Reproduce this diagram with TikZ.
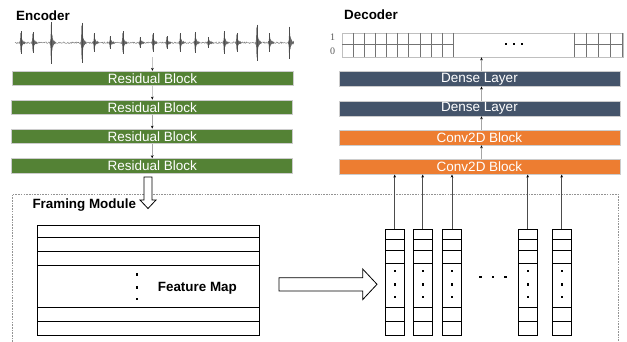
\documentclass[tikz,border=0pt]{standalone}
\usepackage{fontspec}
\setmainfont{Liberation Sans}
\newfontfamily\serifnum{Liberation Serif}
\usetikzlibrary{arrows.meta}
\definecolor{encgreen}{HTML}{548235}
\definecolor{densecol}{HTML}{44546A}
\definecolor{convcol}{HTML}{ED7D31}
\begin{document}
\begin{tikzpicture}[x=1pt,y=-1pt,
  block/.style={draw=gray!40, line width=0.5pt, minimum width=281pt, minimum height=14.6pt,
    inner sep=0pt, text=white, font=\fontsize{13.5}{16}\selectfont},
  arr/.style={draw=gray!70, line width=0.6pt, -{Stealth[length=3pt,width=2.6pt,black]}},
  colarr/.style={draw=black!70, line width=0.6pt, -{Stealth[length=3pt,width=2.6pt,black]}},
  title/.style={font=\bfseries\fontsize{13.4}{16}\selectfont, inner sep=0pt},
  gridbox/.style={draw=gray!50, line width=0.8pt, inner sep=0pt},
  gridline/.style={black!55, line width=0.8pt},
  thick box/.style={draw=black, line width=1pt, inner sep=0pt},
  hollow/.style={draw=black, line width=0.8pt, fill=white}
]
\useasboundingbox (0,0) rectangle (627,341);

% ---------------- Encoder ----------------
\node[title, anchor=base west] (enc) at (16,20.7) {Encoder};

% waveform
\pgfmathsetseed{7}
\draw[black!50, line width=0.45pt] plot[domain=15:293, samples=500] (\x, {42.7+0.8*rand});
\foreach \p/\a in {20.7/12, 32.7/11, 51/22, 81.7/21, 94/10, 110/7, 122.7/12, 140/6,
  152.7/10, 166.7/7, 180/10, 195/11, 208.3/6, 224/12, 236.7/10, 256.7/19, 269.3/10, 289.3/17}
{
  \draw[black!60, line width=0.3pt] plot[variable=\t, domain=-1.2:4.5, samples=90]
    ({\p+\t}, {42.7 + \a*exp(3*min(\t,0))*exp(-0.85*max(\t,0))*sin(1530*\t)});
  \draw[black!70, line width=0.5pt] (\p+0.3,{42.7-\a*0.95}) -- (\p+0.3,{42.7+\a*0.95});
}
\coordinate (wav) at (152.3,57);

\node[block, fill=encgreen] (r1) at (152.5,78.4) {Residual Block};
\node[block, fill=encgreen] (r2) at (152.2,107.2) {Residual Block};
\node[block, fill=encgreen] (r3) at (152.2,136.2) {Residual Block};
\node[block, fill=encgreen] (r4) at (152.2,165.8) {Residual Block};

\draw[arr] (wav) -- (r1);
\draw[arr] (r1) -- (r2);
\draw[arr] (r2) -- (r3);
\draw[arr] (r3) -- (r4);

% ---------------- Decoder ----------------
\node[title, anchor=base west] (dec) at (344,19.6) {Decoder};

\node[gridbox, anchor=north west, minimum width=280.5pt, minimum height=24.4pt] (grid) at (342,32.9) {};
\foreach \k in {1,...,10} \draw[gridline] ({342+\k*11.13},32.9) -- ({342+\k*11.13},57.3);
\draw[gridline] (342,44.7) -- (453.3,44.7);
\foreach \xx in {574,586.3,598.5,610.7,622.5} \draw[gridline] (\xx,32.9) -- (\xx,57.3);
\draw[gridline] (574,44.7) -- (622.5,44.7);
\foreach \xx in {506,514,522} \fill (\xx-1,43) rectangle ++(2,2);

\node[font=\serifnum\fontsize{10}{11}\selectfont, text=black!65, inner sep=0pt] (l1) at (332.5,37.5) {1};
\node[font=\serifnum\fontsize{10}{11}\selectfont, text=black!65, inner sep=0pt] (l0) at (332.5,50.8) {0};

\node[block, fill=densecol] (d1) at (479.5,78.9) {Dense Layer};
\node[block, fill=densecol] (d2) at (479.5,108.7) {Dense Layer};
\node[block, fill=convcol] (c1) at (479.5,137.7) {Conv2D Block};
\node[block, fill=convcol] (c2) at (479.5,167) {Conv2D Block};

\draw[arr] ([xshift=2pt]c2.north) -- ([xshift=2pt]c1.south);
\draw[arr] ([xshift=2pt]c1.north) -- ([xshift=2pt]d2.south);
\draw[arr] ([xshift=2pt]d2.north) -- ([xshift=2pt]d1.south);
\draw[arr] ([xshift=2pt]d1.north) -- (481.5,57.3);

% ---------------- Framing module ----------------
\draw[gray!85, dash pattern=on 1.6pt off 1.1pt, line width=0.7pt]
  (12.3,342) -- (12.3,194) -- (618,194) -- (618,342);
\node[title, anchor=base west] (fram) at (32.3,208.3) {Framing Module};
\draw[hollow] (144,177) -- (152,177) -- (152,200) -- (156,200) -- (148,208.5) -- (140,200) -- (144,200) -- cycle;

% feature map
\node[thick box, anchor=north west, minimum width=221.4pt, minimum height=110pt] (fm) at (37.3,225) {};
\foreach \yy in {237.3,251,265,307.7,321.7} \draw[line width=1pt] (37.3,\yy) -- (258.7,\yy);
\foreach \yy in {274.3,287.3,299} \fill (135.5,\yy-1.2) rectangle ++(2.5,2.5);
\node[title, anchor=base west] (fmt) at (157.7,291) {Feature Map};

% hollow arrow to frames
\draw[hollow] (279,277.7) -- (362.7,277.7) -- (362.7,269) -- (377,284.3) -- (362.7,299.6)
  -- (362.7,291) -- (279,291) -- cycle;

% frame columns
\foreach \n/\cx in {1/394.7, 2/422.7, 3/452, 4/527.7, 5/561.7}
{
  \node[thick box, minimum width=18.7pt, minimum height=106pt] (col\n) at (\cx,282) {};
  \foreach \yy in {239.3,250.7,263.3,307.7,321.7}
    \draw[line width=1pt] (\cx-9.35,\yy) -- (\cx+9.35,\yy);
  \foreach \yy in {271,284.3,297} \fill (\cx-1.2,\yy-1.2) rectangle ++(2.5,2.5);
  \draw[colarr] (col\n.north) -- (col\n.north |- c2.south);
}
\foreach \xx in {480.7,493,505.7} \fill (\xx-1.3,277-1.3) rectangle ++(2.7,2.7);

\end{tikzpicture}
\end{document}
